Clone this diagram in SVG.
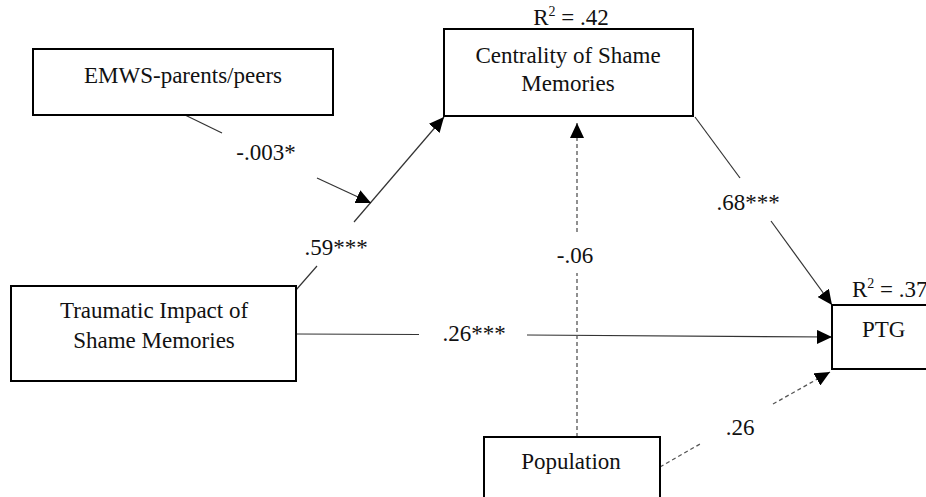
<svg xmlns="http://www.w3.org/2000/svg" width="926" height="497" viewBox="0 0 926 497">
<style>
.box{fill:#fff;stroke:#000;stroke-width:2}
.t{font-family:'Liberation Serif','DejaVu Serif',serif;font-size:23px;fill:#111}
.m{text-anchor:middle}
.solid{stroke:#333;stroke-width:1.2;fill:none}
.dash{stroke:#555;stroke-width:1.3;fill:none;stroke-dasharray:4,3}
</style>
<defs>
<marker id="ah" markerUnits="userSpaceOnUse" markerWidth="16" markerHeight="14" refX="15" refY="7" orient="auto">
<path d="M0,0 L15,7 L0,14 z" fill="#000"/>
</marker>
</defs>
<rect width="926" height="497" fill="#fff"/>
<g id="connectors">
<line class="solid" x1="296" y1="290" x2="317" y2="266"/>
<line class="solid" x1="354" y1="222" x2="444" y2="117" marker-end="url(#ah)"/>
<line class="solid" x1="185" y1="115" x2="222" y2="133"/>
<line class="solid" x1="317" y1="178" x2="371" y2="203" marker-end="url(#ah)"/>
<line class="solid" x1="695" y1="117" x2="740" y2="178"/>
<line class="solid" x1="771" y1="221" x2="832" y2="305" marker-end="url(#ah)"/>
<line class="solid" x1="296" y1="334" x2="419" y2="334.5"/>
<line class="solid" x1="527" y1="335" x2="832" y2="337" marker-end="url(#ah)"/>
<line class="dash" x1="577" y1="437" x2="577" y2="273"/>
<line class="dash" x1="577" y1="232" x2="577" y2="123" marker-end="url(#ah)"/>
<line class="dash" x1="660" y1="467" x2="700" y2="444"/>
<line class="dash" x1="773" y1="404" x2="830" y2="372" marker-end="url(#ah)"/>
<text class="t m" font-family="Liberation Serif, DejaVu Serif, serif" x="266" y="160">-.003*</text>
<text class="t m" font-family="Liberation Serif, DejaVu Serif, serif" x="336" y="255">.59***</text>
<text class="t m" font-family="Liberation Serif, DejaVu Serif, serif" x="748" y="210">.68***</text>
<text class="t m" font-family="Liberation Serif, DejaVu Serif, serif" x="474" y="341">.26***</text>
<text class="t m" font-family="Liberation Serif, DejaVu Serif, serif" x="575" y="263">-.06</text>
<text class="t m" font-family="Liberation Serif, DejaVu Serif, serif" x="740" y="435">.26</text>
</g>
<g id="emws">
<rect class="box" x="33" y="49" width="300" height="66"/>
<text class="t m" x="183" y="83">EMWS-parents/peers</text>
</g>
<g id="centrality">
<rect class="box" x="444" y="29" width="249" height="87"/>
<text class="t m" x="571" y="25">R<tspan font-size="14" dy="-9">2</tspan><tspan dy="9"> = .42</tspan></text>
<text class="t m" x="568" y="63">Centrality of Shame</text>
<text class="t m" x="568" y="91">Memories</text>
</g>
<g id="traumatic">
<rect class="box" x="11" y="286" width="285" height="95"/>
<text class="t m" x="154" y="318">Traumatic Impact of</text>
<text class="t m" x="154" y="348">Shame Memories</text>
</g>
<g id="ptg">
<rect class="box" x="832" y="305" width="130" height="64"/>
<text class="t" x="852" y="297">R<tspan font-size="14" dy="-9">2</tspan><tspan dy="9"> = .37</tspan></text>
<text class="t" x="862" y="337">PTG</text>
</g>
<g id="population">
<rect class="box" x="484" y="437" width="176" height="80"/>
<text class="t m" x="571" y="469">Population</text>
</g>
</svg>
